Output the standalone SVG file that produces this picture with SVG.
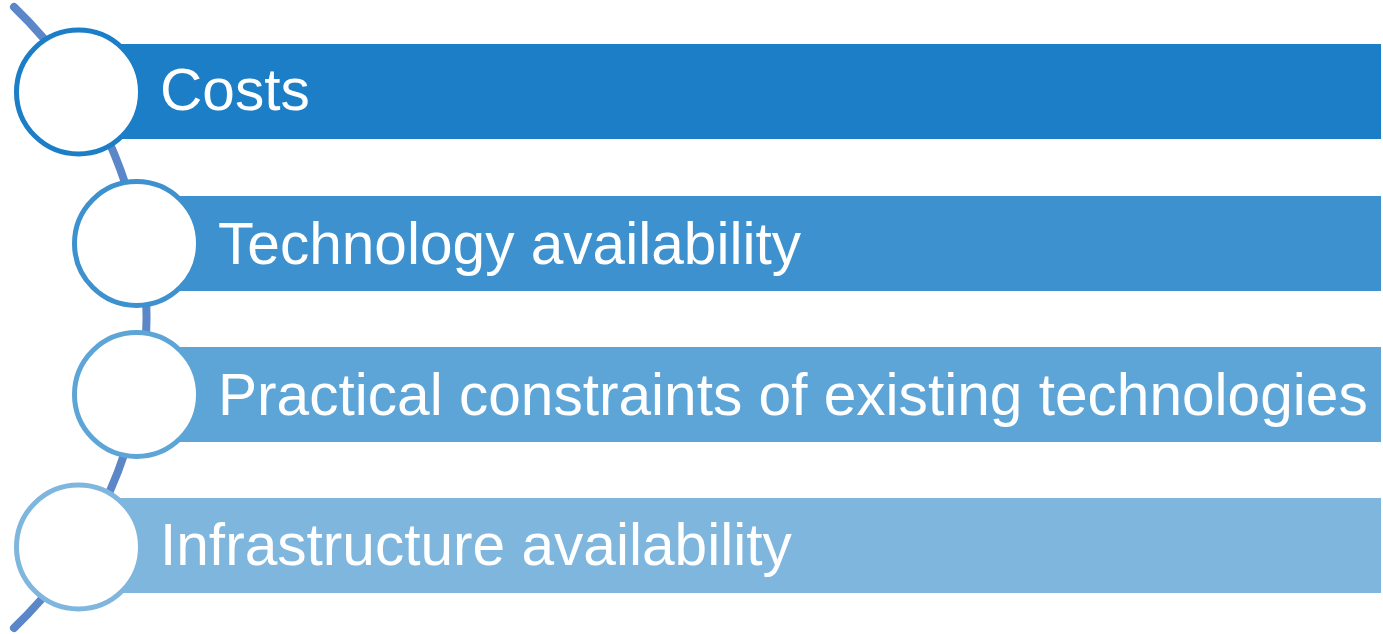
<svg xmlns="http://www.w3.org/2000/svg" width="1383" height="634" viewBox="0 0 1383 634">
<style>
.lbl{font-family:"Liberation Sans",Arial,sans-serif;font-size:58.6px;fill:#ffffff}
.ring{fill:#ffffff;stroke-width:5}
</style>
<rect width="1383" height="634" fill="#ffffff"/>
<g id="connectors">
<path d="M 14 7 A 430 430 0 0 1 14 628" fill="none" stroke="#5B87C9" stroke-width="8" stroke-linecap="round"/>
</g>
<g id="node-costs">
<rect x="78" y="44" width="1303" height="95" fill="#1C7EC6"/>
<circle class="ring" cx="78.5" cy="92" r="62" stroke="#1C7EC6"/>
<text class="lbl" x="160" y="110">Costs</text>
</g>
<g id="node-technology">
<rect x="136" y="196" width="1245" height="95" fill="#3C91CE"/>
<circle class="ring" cx="136.5" cy="243.5" r="62" stroke="#3C91CE"/>
<text class="lbl" x="218" y="264">Technology availability</text>
</g>
<g id="node-practical">
<rect x="136" y="347" width="1245" height="95" fill="#5DA5D7"/>
<circle class="ring" cx="136.5" cy="394.5" r="62" stroke="#5DA5D7"/>
<text class="lbl" x="218" y="415">Practical constraints of existing technologies</text>
</g>
<g id="node-infrastructure">
<rect x="78" y="498" width="1303" height="95" fill="#7FB6DE"/>
<circle class="ring" cx="78.5" cy="547" r="62" stroke="#7FB6DE"/>
<text class="lbl" x="160" y="565">Infrastructure availability</text>
</g>
</svg>
